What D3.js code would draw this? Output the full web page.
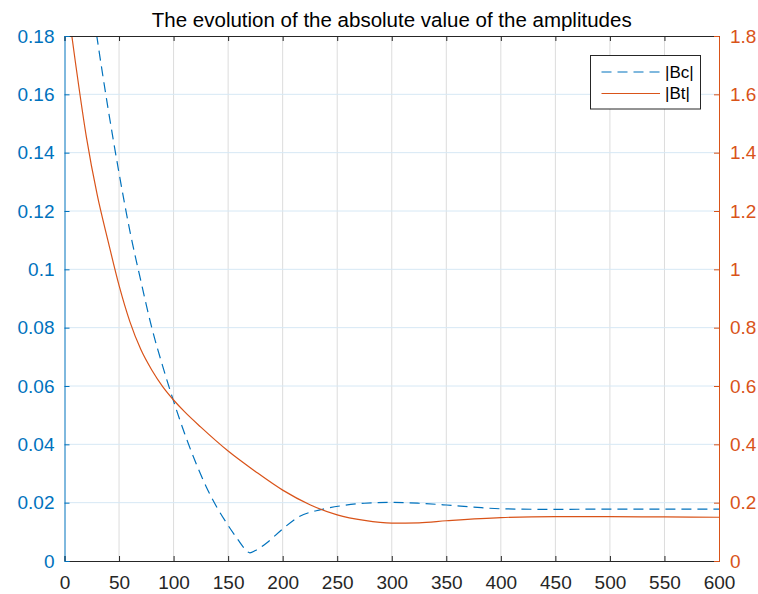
<!DOCTYPE html>
<html>
<head>
<meta charset="utf-8">
<script src="https://cdn.jsdelivr.net/npm/d3@7"></script>
<style>
    body { margin: 0; background: #fff; }
    text { font-family: Arial, "Liberation Sans", Helvetica, sans-serif; }
</style>
</head>
<body>
<div class="chart"></div>
<script>
// values
const bcX = [0, 10, 20, 30, 40, 50, 60, 70, 80, 90, 100, 110, 120, 130, 140, 150, 160, 165, 170, 175, 185, 200, 215, 235, 255, 275, 300, 325, 350, 375, 400, 450, 500, 550, 600];
const bcY = [0.262, 0.232, 0.205, 0.179, 0.155, 0.133, 0.113, 0.096, 0.080, 0.0668, 0.0548, 0.0438, 0.0340, 0.0254, 0.0182, 0.0122, 0.0068, 0.0043, 0.0028, 0.0036, 0.0061, 0.0110, 0.0152, 0.0176, 0.0190, 0.0198, 0.0201, 0.0198, 0.0192, 0.0185, 0.0179, 0.0177, 0.0178, 0.0178, 0.0178];

const btX = [0, 10, 20, 30, 40, 50, 60, 70, 80, 90, 100, 110, 125, 150, 175, 200, 225, 250, 275, 300, 325, 350, 400, 450, 500, 550, 600];
const btY = [1.985, 1.71, 1.455, 1.255, 1.096, 0.945, 0.82, 0.725, 0.655, 0.598, 0.552, 0.512, 0.459, 0.377, 0.307, 0.243, 0.193, 0.158, 0.139, 0.130, 0.131, 0.138, 0.149, 0.152, 0.152, 0.151, 0.150];

const xTicks = d3.range(0, 601, 50);
const leftTicks = [0, 0.02, 0.04, 0.06, 0.08, 0.1, 0.12, 0.14, 0.16, 0.18];
const rightTicks = [0, 0.2, 0.4, 0.6, 0.8, 1, 1.2, 1.4, 1.6, 1.8];

const titleText = "The evolution of the absolute value of the amplitudes";
const seriesNames = ["|Bc|", "|Bt|"];

const W = 758, H = 594;
const margin = { top: 36, right: 39, bottom: 33, left: 64.5 };
const BLUE = "#0072BD", ORANGE = "#D95319", AXIS = "#262626";
const TICK_FONT = 19;

const svg = d3.select(".chart").append("svg")
    .attr("width", W)
    .attr("height", H);

svg.append("rect").attr("width", W).attr("height", H).attr("fill", "#fff");

const x = d3.scaleLinear().domain([0, 600]).range([margin.left, W - margin.right]);
const yL = d3.scaleLinear().domain([0, 0.18]).range([H - margin.bottom, margin.top]);
const yR = d3.scaleLinear().domain([0, 1.8]).range([H - margin.bottom, margin.top]);

const x0 = x(0), x1 = x(600), yb = yL(0), yt = yL(0.18);

// grid
svg.append("g").selectAll("line")
    .data(xTicks.slice(1, -1))
    .enter().append("line")
    .attr("x1", d => x(d)).attr("x2", d => x(d))
    .attr("y1", yt).attr("y2", yb)
    .attr("stroke", "#dcdcdc").attr("stroke-width", 1);

svg.append("g").selectAll("line")
    .data(leftTicks.slice(1, -1))
    .enter().append("line")
    .attr("x1", x0).attr("x2", x1)
    .attr("y1", d => yL(d)).attr("y2", d => yL(d))
    .attr("stroke", "#d6e8f5").attr("stroke-width", 1);

// curves
svg.append("clipPath").attr("id", "clip")
    .append("rect").attr("x", x0).attr("y", yt).attr("width", x1 - x0).attr("height", yb - yt);

const bcLine = d3.line()
    .x((d, i) => x(bcX[i]))
    .y(d => yL(d))
    .curve(d3.curveMonotoneX);

const btLine = d3.line()
    .x((d, i) => x(btX[i]))
    .y(d => yR(d))
    .curve(d3.curveMonotoneX);

svg.append("path")
    .datum(bcY)
    .attr("clip-path", "url(#clip)")
    .attr("fill", "none")
    .attr("stroke", BLUE)
    .attr("stroke-width", 1.2)
    .attr("stroke-dasharray", "10,6")
    .attr("d", bcLine);

svg.append("path")
    .datum(btY)
    .attr("clip-path", "url(#clip)")
    .attr("fill", "none")
    .attr("stroke", ORANGE)
    .attr("stroke-width", 1.2)
    .attr("d", btLine);

// bottom axis (ticks pointing in)
const xAxis = svg.append("g")
    .attr("transform", `translate(0, ${yb})`)
    .call(d3.axisBottom(x).tickValues(xTicks).tickSize(-5).tickPadding(15).tickFormat(d3.format("d")));
xAxis.select(".domain").attr("stroke", AXIS);
xAxis.selectAll(".tick line").attr("stroke", AXIS);
xAxis.selectAll("text").attr("fill", AXIS).attr("font-size", TICK_FONT);

// top border with ticks
const topAxis = svg.append("g")
    .attr("transform", `translate(0, ${yt})`)
    .call(d3.axisTop(x).tickValues(xTicks).tickSize(-5).tickFormat(""));
topAxis.select(".domain").attr("stroke", AXIS);
topAxis.selectAll(".tick line").attr("stroke", AXIS);

// left axis
const leftAxis = svg.append("g")
    .attr("transform", `translate(${x0}, 0)`)
    .call(d3.axisLeft(yL).tickValues(leftTicks).tickSize(-5).tickPadding(10).tickFormat(d => d3.format("")(+d.toFixed(2))));
leftAxis.select(".domain").attr("stroke", BLUE);
leftAxis.selectAll(".tick line").attr("stroke", BLUE);
leftAxis.selectAll("text").attr("fill", BLUE).attr("font-size", TICK_FONT);

// right axis
const rightAxis = svg.append("g")
    .attr("transform", `translate(${x1}, 0)`)
    .call(d3.axisRight(yR).tickValues(rightTicks).tickSize(-5).tickPadding(11).tickFormat(d => d3.format("")(+d.toFixed(1))));
rightAxis.select(".domain").attr("stroke", ORANGE);
rightAxis.selectAll(".tick line").attr("stroke", ORANGE);
rightAxis.selectAll("text").attr("fill", ORANGE).attr("font-size", TICK_FONT);

// title
svg.append("text")
    .attr("x", (x0 + x1) / 2)
    .attr("y", 27)
    .attr("text-anchor", "middle")
    .attr("font-size", 20.5)
    .attr("fill", "#000")
    .text(titleText);

// legend
const legend = svg.append("g");
legend.append("rect")
    .attr("x", 590.5).attr("y", 55.5)
    .attr("width", 110).attr("height", 53.5)
    .attr("fill", "#fff").attr("stroke", AXIS).attr("stroke-width", 1);

const rows = [
    { name: seriesNames[0], color: BLUE, dash: "10,6", y: 72 },
    { name: seriesNames[1], color: ORANGE, dash: null, y: 93.5 }
];
rows.forEach(r => {
    legend.append("line")
        .attr("x1", 601.5).attr("x2", 660)
        .attr("y1", r.y).attr("y2", r.y)
        .attr("stroke", r.color).attr("stroke-width", 1.2)
        .attr("stroke-dasharray", r.dash);
    legend.append("text")
        .attr("x", 665).attr("y", r.y)
        .attr("dy", "0.35em")
        .attr("font-size", 17)
        .attr("fill", "#000")
        .text(r.name);
});
</script>
</body>
</html>
